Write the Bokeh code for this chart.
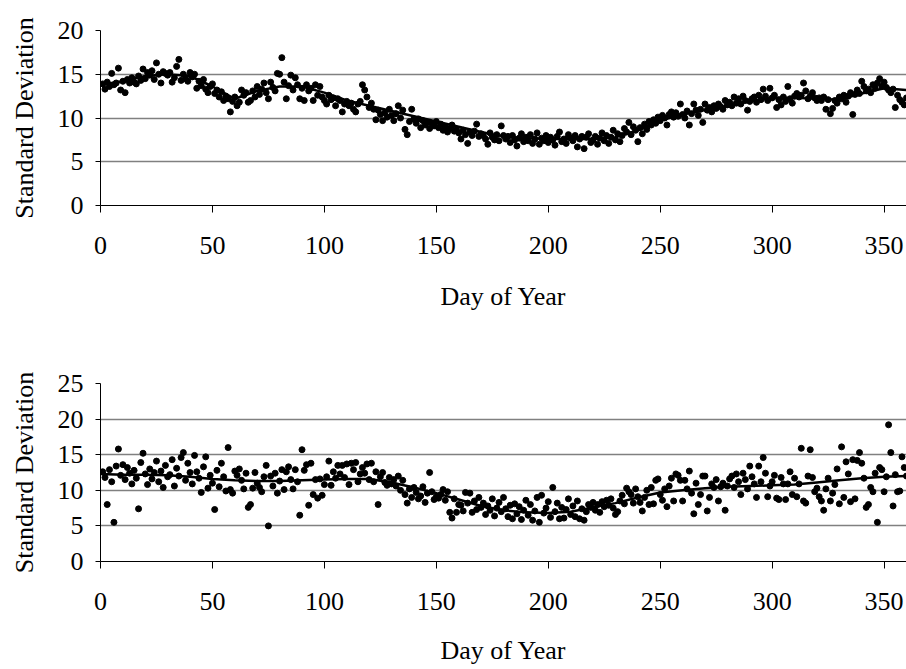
from bokeh.plotting import figure
from bokeh.layouts import column
from bokeh.models import Range1d, FixedTicker
from bokeh.embed import file_html
from bokeh.resources import INLINE

days = list(range(1, 361))

top_sd = [
    13.9, 13.3, 14.1, 13.6, 15.1, 13.8, 14.0, 15.7, 13.2, 14.2,
    12.9, 14.4, 14.0, 14.6, 14.1, 13.9, 14.8, 14.3, 15.6, 14.5,
    15.2, 14.9, 15.4, 14.4, 16.3, 15.0, 14.0, 15.3, 15.1, 14.9,
    15.2, 14.1, 14.6, 15.9, 16.7, 14.3, 15.0, 14.5, 14.2, 15.2,
    14.7, 15.0, 13.4, 14.2, 13.7, 14.4, 13.3, 12.9, 13.6, 13.9,
    12.8, 13.2, 12.4, 13.0, 12.0, 12.5, 12.2, 10.7, 11.9, 12.4,
    11.4, 11.8, 13.2, 12.6, 12.9, 11.8, 12.0, 13.1, 12.4, 13.6,
    12.7, 13.3, 14.0, 12.9, 12.2, 14.1, 13.5, 13.1, 15.1, 15.0,
    16.9, 14.1, 12.2, 13.7, 14.9, 13.2, 14.6, 13.8, 12.2, 13.4,
    12.0, 13.8, 13.1, 13.4, 12.0, 13.8, 12.6, 13.6, 12.4, 12.0,
    11.6, 12.6, 12.1, 12.3, 11.4, 12.2, 12.0, 10.7, 11.6, 11.9,
    11.4, 11.7, 11.0, 10.7, 11.6, 11.9, 13.8, 13.2, 12.4, 11.2,
    11.7, 11.0, 9.8, 10.9, 10.4, 9.7, 10.6, 10.1, 11.0, 10.3,
    9.7, 10.5, 11.4, 10.0, 10.9, 8.7, 8.1, 9.6, 11.0, 9.9,
    9.4, 9.9, 8.9, 9.7, 9.2, 9.5, 8.8, 9.4, 9.1, 9.6,
    8.9, 9.3, 8.6, 9.0, 8.4, 8.8, 9.2, 8.5, 8.7, 8.3,
    7.6, 8.6, 8.1, 7.1, 8.4, 8.0, 8.5, 9.3, 7.9, 8.2,
    8.0, 7.6, 7.0, 8.3, 7.8, 7.5, 8.1, 7.4, 9.1, 8.0,
    7.6, 7.9, 7.2, 8.0, 7.5, 6.8, 7.7, 8.2, 7.3, 7.8,
    7.4, 8.1, 7.1, 7.6, 8.3, 7.0, 7.7, 7.4, 8.0, 7.2,
    7.8, 7.5, 6.9, 7.9, 8.4, 7.3, 7.6, 7.1, 8.1, 7.7,
    7.4, 8.0, 6.7, 7.6, 7.9, 6.5, 7.8, 8.2, 7.2, 7.5,
    7.9, 7.0, 7.7, 8.3, 7.4, 8.0, 7.1, 7.8, 8.6, 7.5,
    8.2, 7.3, 8.0, 8.8, 8.4, 9.5, 8.1, 9.0, 8.6, 7.3,
    8.9, 8.2, 9.3, 8.7, 9.6, 9.2, 9.8, 9.4, 10.1, 9.7,
    10.3, 10.0, 9.2, 10.4, 10.7, 10.1, 10.6, 10.2, 11.6, 10.4,
    10.0, 10.8, 9.2, 10.5, 11.6, 10.9, 10.3, 11.0, 9.5, 11.6,
    10.9, 11.2, 10.7, 11.4, 11.1, 11.6, 11.3, 11.0, 12.0, 11.5,
    11.8, 11.4, 12.4, 11.7, 12.2, 11.6, 12.5, 12.0, 10.9, 11.9,
    12.2, 12.4, 11.8, 12.6, 12.1, 13.3, 12.5, 12.0, 13.4, 12.3,
    12.6, 11.2, 12.1, 11.5, 12.4, 11.9, 13.6, 12.2, 11.7, 12.5,
    12.8, 12.4, 12.6, 14.0, 13.1, 12.2, 12.5, 12.9, 12.3, 12.0,
    12.3, 12.0, 12.4, 11.0, 12.1, 10.5, 11.1, 12.0, 11.7, 12.4,
    12.2, 12.6, 11.8, 12.5, 12.9, 10.4, 12.7, 13.2, 12.8, 14.2,
    13.6, 13.1, 13.3, 12.9, 13.8, 13.4, 14.0, 14.5, 13.6, 14.1,
    13.5, 13.2, 12.9, 13.3, 11.2, 12.6, 12.1, 11.8, 11.5, 12.3,
]

bottom_sd = [
    12.6, 11.8, 8.0, 12.9, 11.2, 5.5, 13.4, 15.8, 12.1, 13.6,
    11.5, 13.2, 12.4, 10.9, 12.8, 11.7, 7.4, 13.9, 15.2, 12.3,
    10.8, 13.0, 11.6, 12.5, 14.1, 11.2, 12.7, 10.4, 13.5, 11.9,
    12.2, 14.3, 10.6, 13.1, 12.0, 14.6, 15.3, 11.4, 13.8, 12.5,
    10.9, 14.9, 12.6, 11.7, 9.7, 13.3, 14.7, 10.3, 12.1, 11.0,
    7.3, 12.8, 10.5, 13.8, 11.9, 9.9, 16.0, 10.1, 9.6, 12.7,
    12.1, 13.0, 11.4, 10.2, 12.4, 7.6, 8.0, 10.3, 12.5, 11.0,
    10.4, 9.8, 11.9, 13.5, 5.0, 12.0, 10.6, 12.4, 9.6, 11.3,
    12.9, 10.1, 12.6, 13.3, 11.5, 10.2, 12.9, 11.2, 6.5, 15.7,
    12.8, 13.6, 7.9, 13.8, 9.4, 11.5, 8.9, 11.6, 9.3, 10.8,
    11.9, 14.1, 10.7, 12.6, 11.7, 13.5, 12.3, 13.5, 11.8, 13.7,
    10.8, 13.8, 12.9, 13.9, 11.2, 12.3, 13.2, 12.4, 13.7, 11.5,
    13.8, 11.2, 12.6, 8.0, 11.9, 12.5, 11.1, 10.7, 11.8, 10.9,
    11.5, 10.6, 12.0, 10.0, 11.4, 9.4, 8.2, 10.2, 9.0, 10.4,
    9.7, 8.8, 9.2, 10.5, 8.3, 9.6, 12.5, 9.8, 8.7, 9.1,
    8.9, 9.4, 10.1, 8.6, 9.8, 6.9, 6.1, 8.8, 6.9, 8.0,
    7.9, 7.1, 9.7, 8.2, 9.6, 6.9, 8.5, 7.3, 9.0, 7.6,
    8.2, 6.6, 7.8, 7.2, 8.8, 6.4, 7.5, 8.3, 7.0, 9.0,
    7.4, 6.3, 7.9, 6.0, 8.1, 6.7, 7.7, 5.9, 7.2, 8.6,
    6.5, 8.0, 5.8, 7.1, 9.0, 5.5, 9.3, 6.8, 7.5, 8.4,
    6.2, 10.4, 7.0, 8.2, 6.0, 7.6, 6.1, 7.3, 8.8, 6.6,
    7.8, 6.3, 8.5, 6.0, 7.4, 5.8, 7.0, 8.0, 7.6, 8.3,
    7.2, 8.0, 6.9, 8.4, 7.7, 8.6, 7.9, 8.8, 7.5, 6.6,
    7.0, 8.5, 9.3, 8.1, 10.3, 9.8, 9.4, 8.2, 10.2, 9.1,
    8.3, 7.1, 9.0, 10.0, 8.0, 10.4, 8.1, 11.4, 11.6, 9.4,
    8.6, 10.2, 7.7, 10.6, 11.7, 8.5, 12.3, 12.1, 11.4, 8.5,
    11.4, 10.2, 12.7, 9.6, 6.7, 11.0, 8.0, 9.4, 12.0, 12.0,
    7.1, 9.0, 10.9, 10.4, 11.5, 8.5, 10.5, 11.0, 7.2, 10.6,
    11.6, 12.0, 10.4, 12.3, 11.2, 9.4, 12.4, 11.5, 10.2, 13.4,
    11.9, 10.9, 9.0, 13.4, 11.2, 14.6, 12.4, 9.1, 10.6, 11.2,
    12.1, 8.9, 8.7, 11.8, 10.9, 8.7, 10.9, 12.6, 9.4, 11.7,
    9.1, 10.9, 15.9, 8.5, 8.2, 12.0, 15.7, 11.8, 9.8, 10.3,
    9.1, 8.5, 7.2, 10.2, 11.7, 8.5, 9.6, 10.8, 13.0, 8.1,
    16.1, 9.0, 14.0, 12.3, 8.4, 14.3, 8.8, 14.2, 15.3, 13.8,
    11.7, 7.6, 8.0, 10.4, 9.8, 12.4, 5.5, 13.2, 12.9, 9.8,
    11.9, 19.2, 15.3, 7.8, 12.2, 9.8, 9.9, 14.7, 13.2, 12.0,
]

trend_days = [0, 10, 20, 30, 40, 50, 60, 70, 80, 90, 100, 110, 120, 130, 140, 150, 160, 170, 180,
              190, 200, 210, 220, 230, 240, 250, 260, 270, 280, 290, 300, 310, 320, 330, 340, 350, 360]
top_trend = [13.8, 14.2, 14.8, 15.0, 14.8, 13.6, 12.2, 13.1, 13.6, 13.6, 12.9, 12.0, 11.4, 10.8, 10.2,
             9.6, 9.0, 8.4, 7.9, 7.7, 7.6, 7.6, 7.6, 7.8, 8.6, 9.7, 10.4, 10.9, 11.4, 11.9, 12.3,
             12.3, 12.2, 12.1, 12.8, 13.4, 13.2]
bottom_trend = [12.3, 12.2, 12.2, 12.1, 11.9, 11.6, 11.4, 11.3, 11.3, 11.4, 11.5, 11.6, 11.6, 11.1,
                10.4, 9.6, 8.7, 7.8, 7.2, 6.9, 6.8, 7.0, 7.6, 8.2, 9.0, 9.7, 10.0, 10.3, 10.5, 10.6,
                10.7, 10.8, 11.1, 11.4, 11.7, 11.9, 12.0]

x_ticks = [0, 50, 100, 150, 200, 250, 300, 350]
top_y_ticks = [0, 5, 10, 15, 20]
bottom_y_ticks = [0, 5, 10, 15, 20, 25]

FONT = "Liberation Serif"
FSIZE = "26px"


def make_panel(sd, trend, ymax, yticks, height, border_top, border_bottom, xlabel_standoff):
    p = figure(width=906, height=height, output_backend="svg", toolbar_location=None,
               x_range=Range1d(0, 360), y_range=Range1d(0, ymax),
               min_border_left=100, min_border_right=0,
               min_border_top=border_top, min_border_bottom=border_bottom)
    p.outline_line_color = None
    p.background_fill_color = "white"
    p.border_fill_color = "white"
    p.xgrid.grid_line_color = None
    p.ygrid.grid_line_color = "#808080"
    p.ygrid.grid_line_width = 1.5
    p.ygrid.ticker = FixedTicker(ticks=yticks)

    p.xaxis.ticker = FixedTicker(ticks=x_ticks)
    p.yaxis.ticker = FixedTicker(ticks=yticks)
    for ax in (p.xaxis, p.yaxis):
        ax.axis_line_color = "black"
        ax.major_tick_line_color = "black"
        ax.minor_tick_line_color = None
        ax.major_tick_in = 0
        ax.major_label_text_font = FONT
        ax.major_label_text_font_size = FSIZE
        ax.major_label_text_color = "black"
        ax.axis_label_text_font = FONT
        ax.axis_label_text_font_size = FSIZE
        ax.axis_label_text_font_style = "normal"
        ax.axis_label_text_color = "black"
    p.xaxis.major_tick_out = 7
    p.xaxis.major_label_standoff = 24
    p.xaxis.axis_label = "Day of Year"
    p.xaxis.axis_label_standoff = xlabel_standoff
    p.yaxis.major_tick_out = 5
    p.yaxis.major_label_standoff = 12
    p.yaxis.axis_label = "Standard Deviation"
    p.yaxis.axis_label_standoff = 16

    p.scatter(days, sd, size=6, color="black")
    p.line(trend_days, trend, line_color="black", line_width=2.5)
    return p


p1 = make_panel(top_sd, top_trend, 20, top_y_ticks, 320, 30, 115, 25)
p2 = make_panel(bottom_sd, bottom_trend, 25, bottom_y_ticks, 349, 63, 108, 23)

layout = column(p1, p2, spacing=0)
open("out.html", "w").write(file_html(layout, INLINE))
